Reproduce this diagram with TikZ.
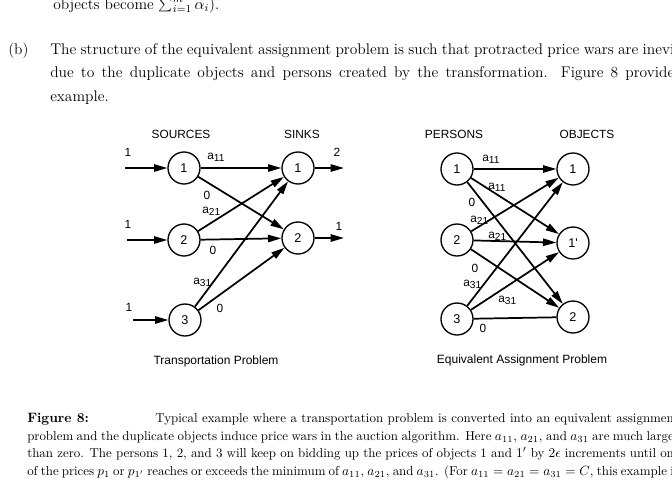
\documentclass[tikz,border=0pt]{standalone}
\usepackage{fontspec}
\newfontfamily\dsf{Liberation Sans}
\usetikzlibrary{arrows.meta}
\newcommand{\asub}[1]{a\raisebox{-0.45ex}{\fontsize{7.6pt}{8pt}\selectfont #1}}
\begin{document}
\begin{tikzpicture}[x=0.75pt,y=-0.75pt,
  circ/.style={draw, circle, line width=1pt, minimum size=24pt, inner sep=0pt, font=\dsf\fontsize{9.5pt}{11pt}\selectfont},
  edge/.style={line width=1.3pt, -{Triangle[length=10pt,width=5.5pt]}},
  plainedge/.style={line width=1.3pt},
  lab/.style={font=\dsf\fontsize{8.9pt}{10pt}\selectfont, inner sep=0pt},
  body/.style={anchor=base west, inner sep=0pt, font=\fontsize{11.6pt}{13pt}\selectfont},
  captext/.style={anchor=base west, inner sep=0pt, font=\fontsize{9.7pt}{11pt}\selectfont},
]
\useasboundingbox[fill=white] (0,0) rectangle (672,479);

% ---- top text ----
\node[body] (t0) at (53,9) {objects become $\sum_{i=1}^{m}\alpha_i$).};
\node[body] (tb) at (8,54) {(b)};
\node[body] (t1) at (50,54) {\makebox[468pt][s]{The structure of the equivalent assignment problem is such that protracted price wars are inevi}};
\node[body] (t2) at (50,77) {\makebox[468pt][s]{due to the duplicate objects and persons created by the transformation.  Figure 8 provide}};
\node[body] (t3) at (50,101) {example.};

% ---- left diagram ----
\node[lab] (hs) at (181,134) {SOURCES};
\node[lab] (hk) at (302,134) {SINKS};
\node[circ] (s1) at (184,168) {1};
\node[circ] (s2) at (184,240) {2};
\node[circ] (s3) at (185,320) {3};
\node[circ] (k1) at (298,168) {1};
\node[circ] (k2) at (298,238) {2};
\coordinate (i1) at (125,168);
\coordinate (i2) at (127,240);
\coordinate (i3) at (133,320);
\coordinate (o1) at (344,168);
\coordinate (o2) at (344,238);
\draw[edge] (i1) -- (s1);
\draw[edge] (i2) -- (s2);
\draw[edge] (i3) -- (s3);
\draw[edge] (k1) -- (o1);
\draw[edge] (k2) -- (o2);
\draw[edge] (s1) -- (k1);
\draw[edge] (s1) -- (k2);
\draw[edge] (s2) -- (k1);
\draw[edge] (s2) -- (k2);
\draw[edge] (s3) -- (k1);
\draw[edge] (s3) -- (k2);
\node[lab] (n1) at (128,152) {1};
\node[lab] (n2) at (128,224) {1};
\node[lab] (n3) at (129,307) {1};
\node[lab] (n4) at (337,152) {2};
\node[lab] (n5) at (339,226) {1};
\node[lab, anchor=base west] (la1) at (207,159) {\asub{11}};
\node[lab] (lz1) at (207,195) {0};
\node[lab, anchor=base west] (la2) at (202,213) {\asub{21}};
\node[lab] (lz2) at (213,250) {0};
\node[lab, anchor=base west] (la3) at (193,284) {\asub{31}};
\node[lab] (lz3) at (220,308) {0};
\node[lab, font=\dsf\fontsize{9pt}{10pt}\selectfont] (tl) at (216,361) {Transportation Problem};

% ---- right diagram ----
\node[lab] (hp) at (454,134) {PERSONS};
\node[lab] (ho) at (587,134) {OBJECTS};
\node[circ] (p1) at (457,169) {1};
\node[circ] (p2) at (457,240) {2};
\node[circ] (p3) at (457,319) {3};
\node[circ] (q1) at (573,169) {1};
\node[circ] (q2) at (573,243) {1'};
\node[circ] (q3) at (573,317) {2};
\draw[edge] (p1) -- (q1);
\draw[edge] (p1) -- (q2);
\draw[edge] (p1) -- (q3);
\draw[edge] (p2) -- (q1);
\draw[edge] (p2) -- (q2);
\draw[edge] (p2) -- (q3);
\draw[edge] (p3) -- (q1);
\draw[edge] (p3) -- (q2);
\draw[plainedge] (p3) -- (q3);
\node[lab, anchor=base west] (ra1) at (482,161) {\asub{11}};
\node[lab, anchor=base west] (ra2) at (488,189) {\asub{11}};
\node[lab] (rz1) at (472,202) {0};
\node[lab, anchor=base west] (ra3) at (470,222) {\asub{21}};
\node[lab, anchor=base west] (ra4) at (488,238) {\asub{21}};
\node[lab] (rz2) at (475,268) {0};
\node[lab, anchor=base west] (ra5) at (463,286) {\asub{31}};
\node[lab, anchor=base west] (ra6) at (498,302) {\asub{31}};
\node[lab] (rz3) at (483,328) {0};
\node[lab, font=\dsf\fontsize{9pt}{10pt}\selectfont] (tr) at (522,360) {Equivalent Assignment Problem};

% ---- caption ----
\node[captext, font=\bfseries\fontsize{10.2pt}{11pt}\selectfont] (cf) at (27,422) {Figure 8:};
\node[captext] (c1) at (155,422) {\makebox[389pt][s]{Typical example where a transportation problem is converted into an equivalent assignmen}};
\node[captext] (c2) at (27,440) {\makebox[485pt][s]{problem and the duplicate objects induce price wars in the auction algorithm. Here $a_{11}$, $a_{21}$, and $a_{31}$ are much large}};
\node[captext] (c3) at (27,457) {\makebox[485pt][s]{than zero. The persons 1, 2, and 3 will keep on bidding up the prices of objects 1 and $1'$ by $2\epsilon$ increments until on}};
\node[captext] (c4) at (27,475) {\makebox[485pt][s]{of the prices $p_1$ or $p_{1'}$ reaches or exceeds the minimum of $a_{11}$, $a_{21}$, and $a_{31}$. (For $a_{11}=a_{21}=a_{31}=C$, this example i}};
\end{tikzpicture}
\end{document}
